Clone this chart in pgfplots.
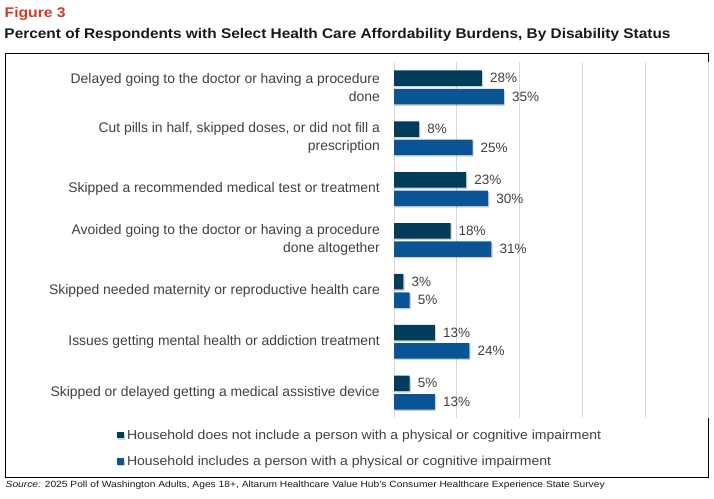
\documentclass[border=0pt]{standalone}
\usepackage{pgfplots}
\pgfplotsset{compat=1.18}
\usepackage{fontspec}
\setmainfont{Liberation Sans}
\usetikzlibrary{shadows}
\definecolor{darkbar}{RGB}{0,61,90}
\definecolor{bluebar}{RGB}{10,84,150}
\definecolor{txtgray}{RGB}{64,64,64}
\definecolor{gridgray}{RGB}{217,217,217}
\definecolor{figred}{RGB}{214,55,40}
\begin{document}
\begin{tikzpicture}
\useasboundingbox (0,0) rectangle (714bp,499bp);
\node[anchor=base west, inner sep=0pt, text=figred, font=\fontsize{14bp}{16bp}\selectfont\bfseries] at (4.5bp,481.7bp) {\resizebox{61bp}{\height}{Figure 3}};
\node[anchor=base west, inner sep=0pt, text=black!90, font=\fontsize{14bp}{16bp}\selectfont\bfseries] at (4.3bp,460bp) {\resizebox{666bp}{\height}{Percent of Respondents with Select Health Care Affordability Burdens, By Disability Status}};
\draw[line width=1bp] (5.3bp,445bp) rectangle (708.7bp,21.5bp);
\node[anchor=base west, inner sep=0pt, text=black!90, font=\fontsize{9bp}{11bp}\selectfont] at (5.5bp,11.5bp) {\resizebox{599bp}{\height}{\textit{Source:} 2025 Poll of Washington Adults, Ages 18+, Altarum Healthcare Value Hub's Consumer Healthcare Experience State Survey}};
\begin{axis}[
  at={(394bp,81bp)}, anchor=south west, scale only axis,
  width=314bp, height=356bp,
  xbar, xmin=0, xmax=100, ymin=-0.5, ymax=6.5, y dir=reverse,
  axis line style={draw=none}, major tick length=0pt,
  xtick={0,20,...,100}, xticklabels={,,,,,},
  xmajorgrids, grid style={gridgray, line width=1bp},
  ytick={0,...,6},
  yticklabels={{Delayed going to the doctor or having a procedure\\done},
               {Cut pills in half, skipped doses, or did not fill a\\prescription},
               {Skipped a recommended medical test or treatment},
               {Avoided going to the doctor or having a procedure\\done altogether},
               {Skipped needed maternity or reproductive health care},
               {Issues getting mental health or addiction treatment},
               {Skipped or delayed getting a medical assistive device}},
  yticklabel style={align=right, inner sep=0pt, xshift=-14bp, text=txtgray, font=\fontsize{13.9bp}{18bp}\selectfont},
  bar width=15.5bp,
  /pgf/number format/assume math mode=true,
  nodes near coords={\pgfmathprintnumber{\pgfplotspointmeta}\%}, point meta=x,
  every node near coord/.style={anchor=west, inner sep=0pt, xshift=8bp, text=txtgray, font=\fontsize{13.5bp}{16bp}\selectfont},
  legend style={at={(-0.883,-0.032)}, anchor=north west, draw=none, fill=none, inner sep=0pt,
    row sep=15.5bp, column sep=3.5bp, font=\fontsize{13bp}{15bp}\selectfont, text=txtgray,
    nodes={inner sep=0pt}},
  legend cell align=left,
]
\addplot[fill=darkbar, draw=none, bar shift=0pt,
  general shadow={shadow xshift=1.2bp, shadow yshift=-1.5bp, fill=black, opacity=0.18},
  legend image code/.code={\fill[darkbar] (0bp,-3.3bp) rectangle (6.6bp,3.3bp);}]
  coordinates {(28,-0.181) (8,0.819) (23,1.819) (18,2.819) (3,3.819) (13,4.819) (5,5.819)};
\addlegendentry{\resizebox{474bp}{\height}{Household does not include a person with a physical or cognitive impairment}}
\addplot[fill=bluebar, draw=none, bar shift=0pt,
  general shadow={shadow xshift=1.2bp, shadow yshift=-1.5bp, fill=black, opacity=0.18},
  legend image code/.code={\fill[bluebar] (0bp,-3.3bp) rectangle (6.6bp,3.3bp);}]
  coordinates {(35,0.181) (25,1.181) (30,2.181) (31,3.181) (5,4.181) (24,5.181) (13,6.181)};
\addlegendentry{\resizebox{424bp}{\height}{Household includes a person with a physical or cognitive impairment}}
\end{axis}
\end{tikzpicture}
\end{document}
